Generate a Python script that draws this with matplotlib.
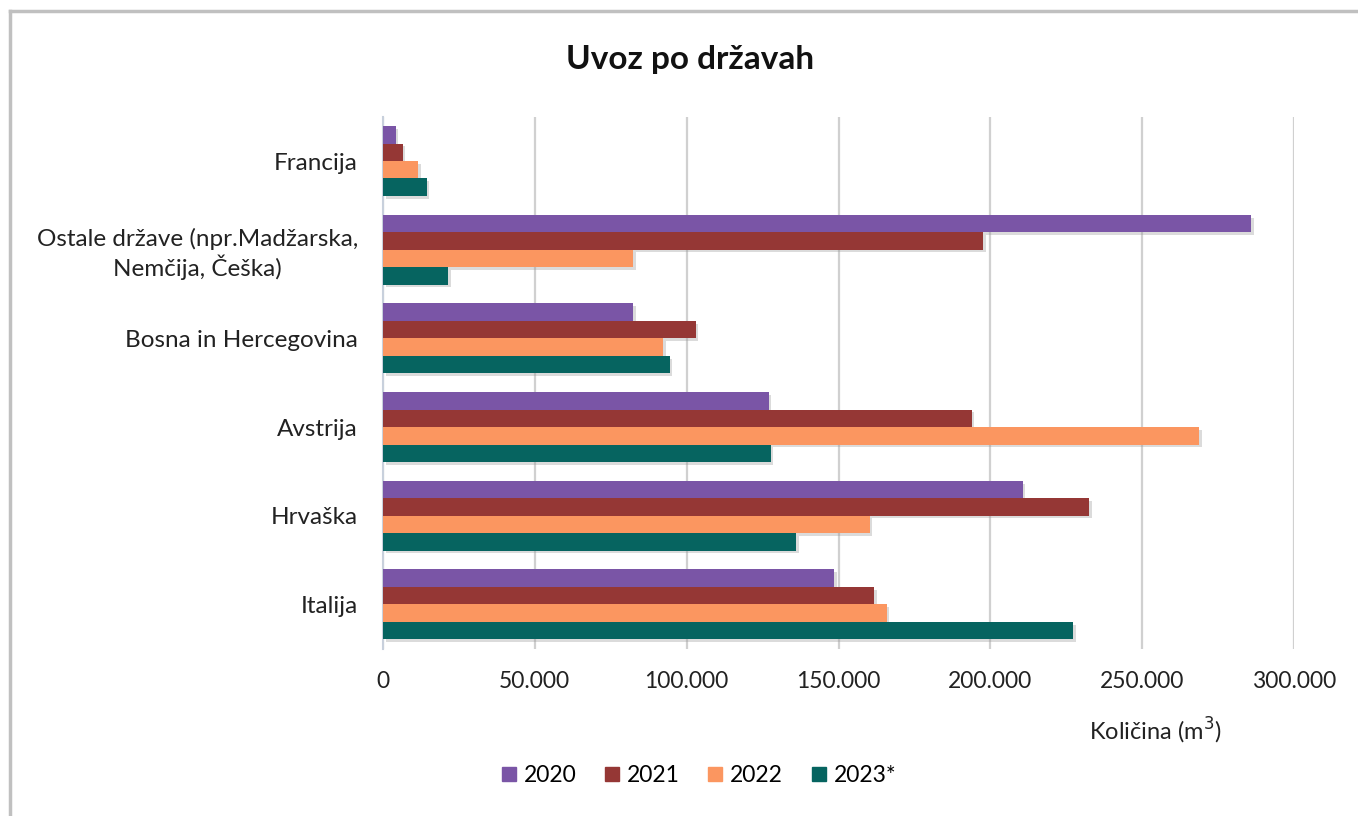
import matplotlib
matplotlib.use("Agg")
import matplotlib.pyplot as plt
import matplotlib.patheffects as pe
from matplotlib.lines import Line2D
from matplotlib.ticker import FuncFormatter
import numpy as np

plt.rcParams['font.family'] = ['Lato', 'DejaVu Sans']

# data (m3)
countries = ["Italija", "Hrvaška", "Avstrija", "Bosna in Hercegovina",
             "Ostale države (npr.Madžarska,\nNemčija, Češka)", "Francija"]
years = ["2020", "2021", "2022", "2023*"]
v2020 = [148500, 210600, 127000, 82300, 285900, 4200]
v2021 = [161700, 232600, 193800, 102900, 197500, 6500]
v2022 = [165800, 160200, 268800, 92200, 82400, 11600]
v2023 = [227100, 136100, 127600, 94400, 21500, 14400]
series = [v2020, v2021, v2022, v2023]
colors = ["#7a55a6", "#953735", "#fb9660", "#066460"]

fig = plt.figure(figsize=(13.58, 8.16), dpi=100)
ax = fig.add_axes([0.282, 0.205, 0.671, 0.652])

y = np.arange(len(countries))
h = 0.197
shadow = [pe.SimplePatchShadow(offset=(2, -2), shadow_rgbFace="#999999", alpha=0.35), pe.Normal()]
for i, (vals, c) in enumerate(zip(series, colors)):
    # series 2020 on top within each group
    ax.barh(y + (1.5 - i) * h, vals, height=h, color=c, label=years[i],
            zorder=3, path_effects=shadow)

ax.set_xlim(0, 300000)
ax.set_ylim(-0.5, len(countries) - 0.5)
ax.set_xticks(np.arange(0, 300001, 50000))
ax.xaxis.set_major_formatter(FuncFormatter(lambda v, p: f"{int(v):,}".replace(",", ".")))
ax.set_yticks(y)
ax.set_yticklabels(countries, multialignment="center")
ax.tick_params(axis="both", length=0, colors="#222222")
ax.tick_params(axis="y", pad=18, labelsize=17.5)
ax.tick_params(axis="x", pad=16, labelsize=16.5)
ax.grid(axis="x", color="#d0d0d0", linewidth=1.6, zorder=0)
for s in ["top", "right", "bottom"]:
    ax.spines[s].set_visible(False)
ax.spines["left"].set_color("#c8d0dc")
ax.spines["left"].set_linewidth(1.5)

fig.text(0.508, 0.927, "Uvoz po državah", ha="center", va="center",
         fontsize=24, fontweight="bold", color="#111111")
fig.text(0.851, 0.104, "Količina (m$^{3}$)", ha="center", va="center",
         fontsize=17, color="#222222")

handles = [Line2D([], [], marker="s", linestyle="none", markersize=10,
                  markerfacecolor=c, markeredgecolor=c) for c in colors]
fig.legend(handles, years, loc="center", bbox_to_anchor=(0.511, 0.05), ncol=4,
           frameon=False, fontsize=16.5, handletextpad=-0.1, columnspacing=0.8,
           handlelength=1.5)

# light frame on top and left
fig.add_artist(Line2D([0.0074, 1.0], [0.9865, 0.9865], transform=fig.transFigure,
                      color="#c0c0c0", linewidth=2.5))
fig.add_artist(Line2D([0.0074, 0.0074], [0.0, 0.9865], transform=fig.transFigure,
                      color="#c0c0c0", linewidth=2.5))

fig.savefig("out.png", dpi=100, facecolor="white")
